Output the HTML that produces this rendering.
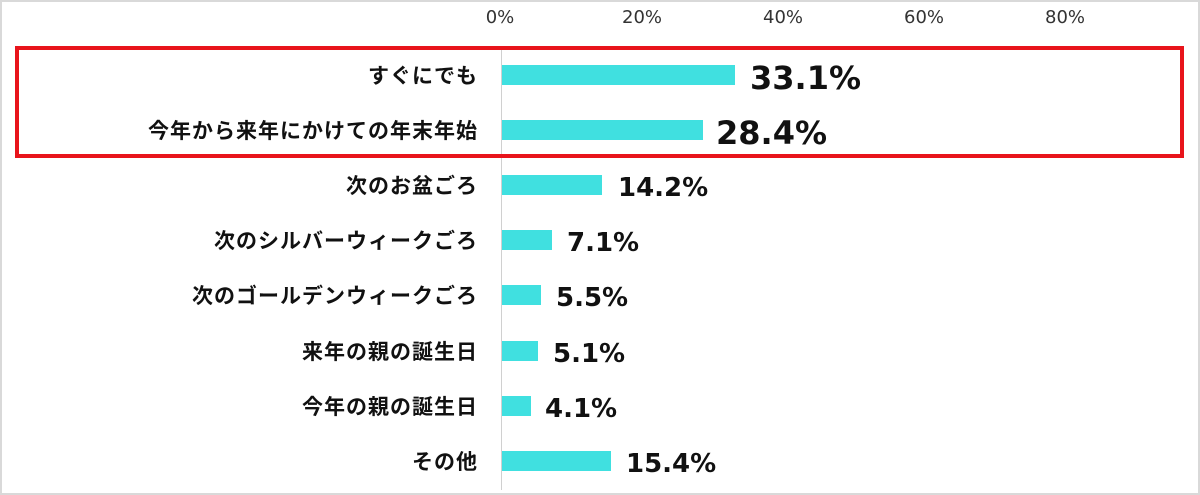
<!DOCTYPE html>
<html><head><meta charset="utf-8"><style>
body{margin:0;background:#fff;}
.c{position:relative;width:1200px;height:495px;overflow:hidden;font-family:"Liberation Sans","Noto Sans CJK JP",sans-serif;}
.frame{position:absolute;left:0;top:0;width:1196px;height:491px;border:2px solid #d9d9d9;}
.t{position:absolute;top:7px;font-size:18px;color:#333;transform:translateX(-50%);font-family:"DejaVu Sans",sans-serif;}
.ax{position:absolute;left:501px;top:48px;width:1px;height:442px;background:#d0d0d0;}
.l{position:absolute;right:722px;font-size:21px;font-weight:bold;color:#111;transform:translateY(-50%);white-space:nowrap;font-family:"Noto Sans CJK JP",sans-serif;letter-spacing:1px;}
.b{position:absolute;left:502px;height:20px;background:#40e0e0;transform:translateY(-50%);}
.v{position:absolute;font-weight:bold;color:#111;transform:translateY(-50%);white-space:nowrap;font-family:"DejaVu Sans",sans-serif;}
.box{position:absolute;left:15px;top:46px;width:1161px;height:104px;border:4px solid #e8141b;}
</style></head><body><div class="c">
<div class="frame"></div>
<div class="t" style="left:500px">0%</div>
<div class="t" style="left:642px">20%</div>
<div class="t" style="left:783px">40%</div>
<div class="t" style="left:924px">60%</div>
<div class="t" style="left:1065px">80%</div>
<div class="ax"></div>

<div class="l" style="top:75px">すぐにでも</div>
<div class="b" style="top:75px;width:233px"></div>
<div class="v" style="top:78px;left:750px;font-size:32px">33.1%</div>

<div class="l" style="top:130px">今年から来年にかけての年末年始</div>
<div class="b" style="top:130px;width:201px"></div>
<div class="v" style="top:133px;left:716px;font-size:32px">28.4%</div>

<div class="l" style="top:185px">次のお盆ごろ</div>
<div class="b" style="top:185px;width:100px"></div>
<div class="v" style="top:188px;left:618px;font-size:26px">14.2%</div>

<div class="l" style="top:240px">次のシルバーウィークごろ</div>
<div class="b" style="top:240px;width:50px"></div>
<div class="v" style="top:243px;left:567px;font-size:26px">7.1%</div>

<div class="l" style="top:295px">次のゴールデンウィークごろ</div>
<div class="b" style="top:295px;width:39px"></div>
<div class="v" style="top:298px;left:556px;font-size:26px">5.5%</div>

<div class="l" style="top:351px">来年の親の誕生日</div>
<div class="b" style="top:351px;width:36px"></div>
<div class="v" style="top:354px;left:553px;font-size:26px">5.1%</div>

<div class="l" style="top:406px">今年の親の誕生日</div>
<div class="b" style="top:406px;width:29px"></div>
<div class="v" style="top:409px;left:545px;font-size:26px">4.1%</div>

<div class="l" style="top:461px">その他</div>
<div class="b" style="top:461px;width:109px"></div>
<div class="v" style="top:464px;left:626px;font-size:26px">15.4%</div>

<div class="box"></div>
</div></body></html>
